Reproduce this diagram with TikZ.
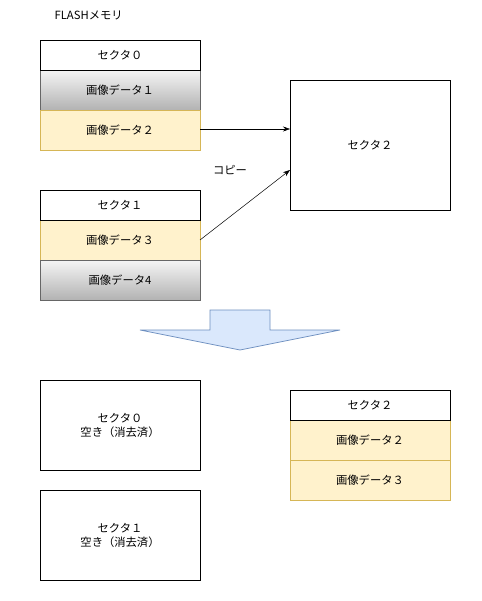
\documentclass[tikz,border=0pt]{standalone}
\usepackage{fontspec}
\setmainfont{Noto Sans CJK JP}
\usetikzlibrary{arrows.meta,shapes.arrows}
\begin{document}
\begin{tikzpicture}[x=1pt,y=-1pt,
  every node/.style={font=\fontsize{11.3}{14}\selectfont, text=black},
  hdr/.style={draw=black, fill=white, line width=0.8pt},
  img/.style={draw=black!60, line width=0.8pt, top color=black!4, bottom color=black!30},
  ylw/.style={draw=yellowline, fill=yellowfill, line width=0.8pt},
  plain/.style={draw=black, fill=white, line width=0.8pt},
  conn/.style={draw=black, line width=0.5pt, -{Stealth[length=7pt,width=5pt]}}]
\definecolor{yellowfill}{HTML}{FFF2CC}
\definecolor{yellowline}{HTML}{D6B656}
\definecolor{bluefill}{HTML}{DAE8FC}
\definecolor{blueline}{HTML}{6C8EBF}
\useasboundingbox (0,0) rectangle (481,601);

\node[anchor=west] (title) at (51,15) {FLASHメモリ};

% sector 0 group
\path[img] (40,70) rectangle (200,110);
\path[ylw] (40,110) rectangle (200,150);
\path[hdr] (40,40) rectangle (200,70);
\node (s0) at (120,55) {セクタ０};
\node (d1) at (120,90) {画像データ１};
\node (d2) at (120,130) {画像データ２};
\coordinate (d2e) at (200,129);

% sector 1 group
\path[ylw] (40,220) rectangle (200,260);
\path[img] (40,260) rectangle (200,300);
\path[hdr] (40,190) rectangle (200,220);
\node (s1) at (120,205) {セクタ１};
\node (d3) at (120,240) {画像データ３};
\node (d4) at (120,280) {画像データ4};
\coordinate (d3e) at (200,240);

% sector 2 big
\path[plain] (290,80) rectangle (450,210);
\node (s2) at (370,145) {セクタ２};
\coordinate (s2a) at (290,129);
\coordinate (s2b) at (290,170);

\node (copy) at (230,170) {コピー};

\draw[conn] (d2e) -- (s2a);
\draw[conn] (d3e) -- (s2b);

% block arrow
\path[draw=blueline, fill=bluefill, line width=0.7pt]
  (210,310) -- (270,310) -- (270,330) -- (340,330) -- (240,350) -- (140,330) -- (210,330) -- cycle;

% after
\path[plain] (40,380) rectangle (200,470);
\node[align=center] (e0) at (120,425) {セクタ０\\空き（消去済）};
\path[plain] (40,490) rectangle (200,580);
\node[align=center] (e1) at (120,535) {セクタ１\\空き（消去済）};

\path[ylw] (290,420) rectangle (450,460);
\path[ylw] (290,460) rectangle (450,500);
\path[hdr] (290,390) rectangle (450,420);
\node (n2) at (370,405) {セクタ２};
\node (n2a) at (370,440) {画像データ２};
\node (n2b) at (370,480) {画像データ３};
\end{tikzpicture}
\end{document}
